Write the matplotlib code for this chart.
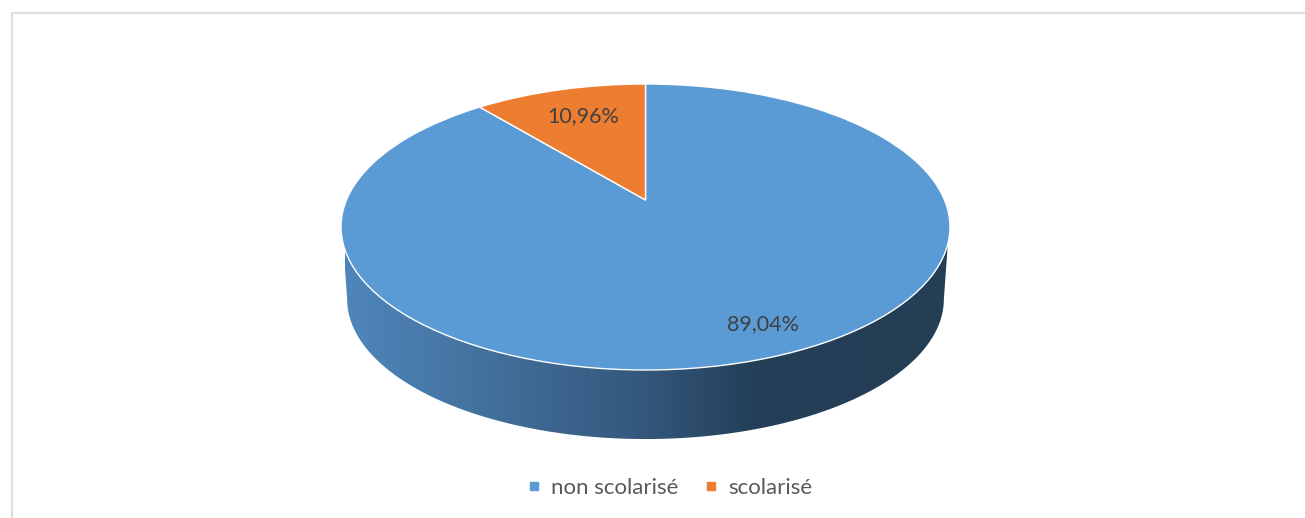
import numpy as np
import matplotlib
matplotlib.use("Agg")
import matplotlib.pyplot as plt
from matplotlib.lines import Line2D
from matplotlib.path import Path
from matplotlib.patches import PathPatch
from matplotlib.transforms import Transform

labels = ["non scolarisé", "scolarisé"]
values = [89.04, 10.96]
colors = ["#5B9BD5", "#ED7D31"]
side_stops = [0.0, 0.25, 0.5, 0.68, 1.0]
side_colors = ["#4f86ba", "#426f9b", "#33577b", "#233f57", "#233e55"]

plt.rcParams["font.family"] = ["Lato", "DejaVu Sans"]


# tilted disc: unit circle to picture pixels, the far side is squeezed
class Tilt(Transform):
    input_dims = 2
    output_dims = 2

    def __init__(self, cx, cy, a, b, k):
        super().__init__()
        self.cx, self.cy, self.a, self.b, self.k = cx, cy, a, b, k

    def transform_non_affine(self, xy):
        xy = np.asarray(xy, float)
        d = 1 + self.k * xy[:, 1]
        return np.column_stack([self.cx + self.b * xy[:, 0] / d,
                                self.cy - self.a * xy[:, 1] / d])


fig = plt.figure(figsize=(13.05, 5.18), dpi=100)
ax = fig.add_axes([0, 0, 1, 1])

# wedges come from the values, tilt is set on them afterwards
wedges, _ = ax.pie(values, colors=colors, startangle=90, counterclock=False,
                   wedgeprops={"edgecolor": "white", "linewidth": 1})
ax.set_aspect("auto")
ax.set_xlim(0, 1305)
ax.set_ylim(518, 0)
ax.axis("off")

top = Tilt(645.5, 200, 137.9, 299, 0.1888)
low = Tilt(645.5, 272.5, 135.1, 293, 0.1888)
for w in wedges:
    w.set_transform(top + ax.transData)
    w.set_zorder(3)

# side of the disc, gradient clipped between the two rims
t = np.linspace(np.pi + 0.19, 2 * np.pi - 0.19, 300)
circle = np.column_stack([np.cos(t), np.sin(t)])
t2 = np.linspace(-0.305, np.pi + 0.305, 200)
back = np.column_stack([np.cos(t2), np.sin(t2)])
outer = np.vstack([top.transform_non_affine(back),
                   low.transform_non_affine(circle)])
clip = PathPatch(Path(np.vstack([outer, outer[:1]]), closed=True),
                 transform=ax.transData, fc="none", ec="none")
ax.add_patch(clip)
cmap = matplotlib.colors.LinearSegmentedColormap.from_list(
    "side", list(zip(side_stops, side_colors)))
im = ax.imshow(np.linspace(0, 1, 256)[None, :], cmap=cmap, aspect="auto",
               extent=(345, 950, 460, 200), zorder=2)
im.set_clip_path(clip)
ax.set_xlim(0, 1305)
ax.set_ylim(518, 0)

# chart frame, open on the right and at the bottom
ax.plot([11.5, 11.5, 1305], [518, 12.5, 12.5], color="#dedede", lw=1.5, zorder=1)

for v, x, y in zip(values, [763, 583], [324, 116]):
    ax.text(x, y, f"{v:.2f}%".replace(".", ","), ha="center", va="center",
            fontsize=15.5, color="#404040", zorder=4)

handles = [Line2D([], [], ls="none", marker="s", ms=6, color=c) for c in colors]
ax.legend(handles, labels, loc="center", bbox_to_anchor=(667.5, 488),
          bbox_transform=ax.transData, ncol=2, frameon=False, fontsize=16,
          labelcolor="#595959", handletextpad=0.25, columnspacing=1.0,
          handlelength=1.0, borderpad=0)

fig.savefig("out.png", dpi=100)
